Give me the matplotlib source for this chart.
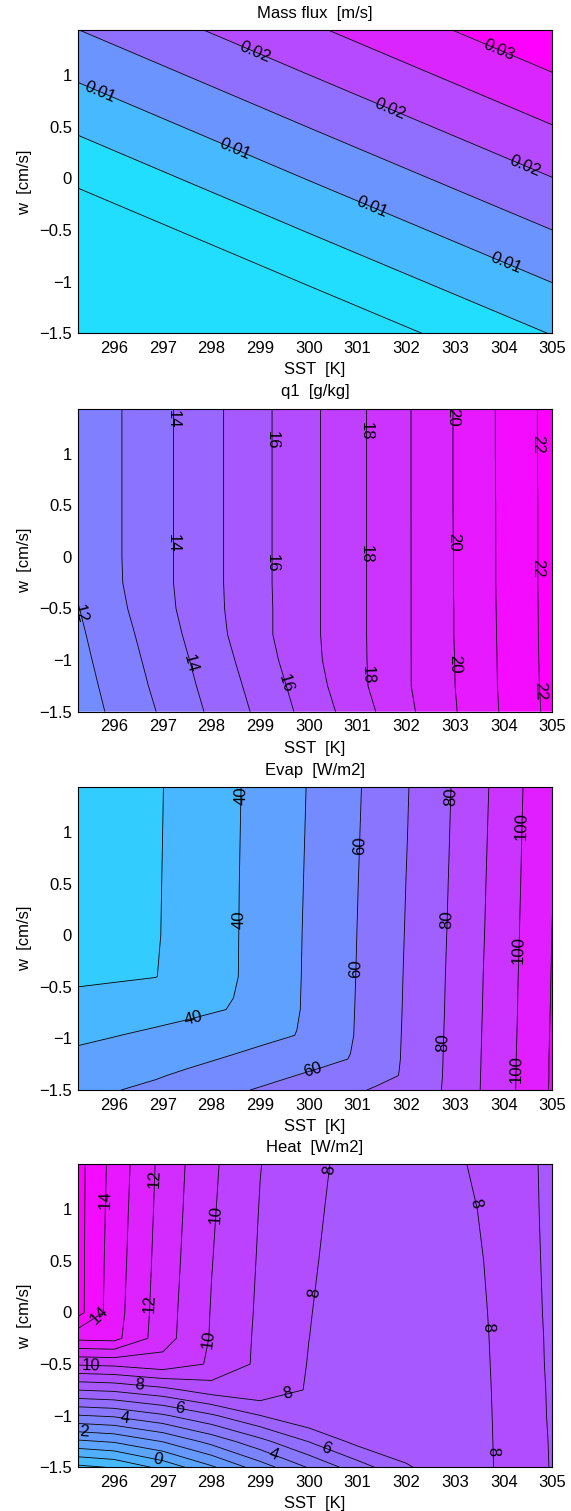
import matplotlib
matplotlib.use("Agg")
import matplotlib.pyplot as plt
import numpy as np

plt.rcParams["font.family"] = ["Liberation Sans", "DejaVu Sans"]
plt.rcParams["font.size"] = 12
plt.rcParams["contour.negative_linestyle"] = "solid"

# ---------------- values ----------------
# panel 1: mass flux [m/s], planar field
sst_mass = [295.25, 300.0, 305.0]
w_mass = [-1.5, 0.0, 1.435]
mass_flux = [
    [-0.0138, -0.0045, 0.0052],
    [0.0009, 0.0102, 0.0199],
    [0.0149, 0.0242, 0.0340],
]

# grid used for q1 and heat
sst_grid = [295.25, 296, 297, 298, 299, 300, 301, 302, 303, 304, 305]
w_grid = [-1.5, -1.25, -1.0, -0.75, -0.5, -0.25, 0.0, 0.5, 1.0, 1.435]

# panel 2: q1 [g/kg]
q1 = [
    [11.47, 12.18, 13.13, 14.16, 15.22, 16.35, 17.54, 18.78, 19.95, 21.12, 22.28],
    [11.59, 12.31, 13.29, 14.32, 15.39, 16.53, 17.76, 18.89, 20.00, 21.15, 22.31],
    [11.71, 12.44, 13.43, 14.47, 15.58, 16.70, 17.79, 18.89, 20.01, 21.16, 22.33],
    [11.83, 12.57, 13.58, 14.64, 15.74, 16.75, 17.80, 18.89, 20.03, 21.17, 22.34],
    [11.96, 12.72, 13.73, 14.73, 15.74, 16.75, 17.80, 18.89, 20.03, 21.18, 22.34],
    [12.12, 12.83, 13.79, 14.75, 15.76, 16.75, 17.80, 18.89, 20.04, 21.19, 22.35],
    [12.15, 12.85, 13.79, 14.75, 15.76, 16.75, 17.80, 18.89, 20.04, 21.19, 22.35],
    [12.15, 12.85, 13.79, 14.75, 15.76, 16.75, 17.80, 18.89, 20.05, 21.19, 22.35],
    [12.15, 12.85, 13.79, 14.75, 15.76, 16.75, 17.80, 18.89, 20.05, 21.20, 22.36],
    [12.15, 12.85, 13.79, 14.75, 15.76, 16.75, 17.80, 18.89, 20.05, 21.20, 22.36],
]

# panel 3: evaporation [W/m2], on its own grid (nodes near the bends)
sst_evap = [295.25, 296, 296.85, 297.5, 298.45, 299, 299.75, 300.3, 300.85,
            301.4, 301.85, 302.5, 303, 304, 305]
w_evap = [-1.5, -1.36, -1.2, -0.97, -0.72, -0.4, 0.0, 0.5, 1.0, 1.435]
evap = [
    [47.7, 49.6, 52.0, 55.1, 58.7, 60.8, 63.7, 65.6, 68.1, 71.2, 73.8, 77.5, 83.2, 96.4, 111.2],
    [45.2, 47.0, 49.2, 51.5, 55.1, 57.2, 60.1, 62.1, 64.4, 67.2, 70.1, 77.1, 83.1, 96.3, 111.1],
    [42.3, 44.0, 46.1, 47.9, 51.0, 53.1, 56.0, 58.1, 60.2, 65.05, 69.7, 77.0, 82.95, 96.2, 111.1],
    [38.2, 39.7, 41.6, 43.2, 45.9, 47.5, 50.15, 54.3, 59.3, 64.85, 69.5, 76.8, 82.8, 96.0, 110.9],
    [33.9, 35.0, 36.5, 37.9, 40.4, 43.5, 49.37, 54.2, 59.1, 64.7, 69.3, 76.6, 82.6, 95.8, 110.7],
    [28.2, 28.9, 29.8, 33.4, 39.26, 43.36, 49.2, 54.0, 58.9, 64.4, 69.1, 76.4, 82.4, 95.6, 110.5],
    [21.2, 24.1, 29.34, 33.33, 39.2, 43.26, 49.07, 53.8, 58.7, 64.1, 68.8, 76.1, 82.05, 95.2, 110.2],
    [21.0, 24.1, 29.22, 33.23, 39.13, 43.13, 48.85, 53.5, 58.4, 63.8, 68.45, 75.7, 81.7, 94.8, 109.8],
    [21.0, 24.1, 29.1, 33.1, 39.0, 42.95, 48.6, 53.25, 58.1, 63.4, 68.0, 75.4, 81.3, 94.4, 109.5],
    [21.0, 24.1, 29.0, 33.0, 38.9, 42.8, 48.4, 53.0, 57.8, 63.1, 67.7, 75.1, 81.0, 94.0, 109.2],
]

# panel 4: sensible heat [W/m2]
heat = [
    [-2.27, -1.92, -0.71, 0.84, 2.50, 4.08, 5.53, 6.87, 7.812, 8.05, 7.996],
    [0.82, 1.10, 2.03, 3.32, 4.69, 6.03, 7.31, 7.70, 7.827, 8.05, 7.995],
    [3.93, 4.13, 4.85, 5.85, 6.98, 7.88, 7.60, 7.70, 7.841, 8.05, 7.993],
    [7.02, 7.18, 7.71, 8.49, 8.73, 7.90, 7.60, 7.70, 7.855, 8.05, 7.992],
    [10.12, 10.23, 10.62, 9.88, 8.77, 7.96, 7.60, 7.70, 7.871, 8.05, 7.990],
    [13.22, 13.30, 11.42, 9.915, 8.80, 8.004, 7.60, 7.70, 7.885, 8.05, 7.989],
    [15.35, 13.43, 11.46, 9.95, 8.84, 8.03, 7.60, 7.70, 7.900, 8.05, 7.987],
    [15.35, 13.50, 11.55, 10.03, 8.90, 8.10, 7.60, 7.70, 7.929, 8.05, 7.984],
    [15.35, 13.57, 11.63, 10.11, 8.96, 8.188, 7.60, 7.70, 7.958, 8.05, 7.981],
    [15.35, 13.64, 11.69, 10.18, 9.02, 8.30, 7.60, 7.70, 7.984, 8.05, 7.979],
]

titles = ["Mass flux  [m/s]", "q1  [g/kg]", "Evap  [W/m2]", "Heat  [W/m2]"]
xticks = [296, 297, 298, 299, 300, 301, 302, 303, 304, 305]
yticks = [-1.5, -1, -0.5, 0, 0.5, 1]
ytick_labels = ["\u22121.5", "\u22121", "\u22120.5", "0", "0.5", "1"]

# contour levels and label spots (layout)
mass_levels = [0, 0.005, 0.01, 0.015, 0.02, 0.025, 0.03]
q1_levels = list(range(12, 23))
evap_levels = list(range(30, 111, 10))
heat_levels = list(range(-2, 16))

mass_labels = [(295.68, 0.80), (298.51, 0.31), (301.34, -0.23), (304.05, -0.82),
               (298.89, 1.22), (301.68, 0.69), (304.43, 0.12), (303.9, 1.25)]
q1_labels = [(295.34, -0.55),
             (297.21, 1.33), (297.21, 0.13), (297.55, -1.04),
             (299.23, 1.13), (299.23, -0.06), (299.49, -1.23),
             (301.13, 1.22), (301.13, 0.03), (301.19, -1.15),
             (302.96, 1.35), (302.96, 0.14), (303.0, -1.04),
             (304.67, 1.09), (304.69, -0.11), (304.73, -1.3)]
evap_labels = [(298.66, 1.35), (298.62, 0.15), (297.61, -0.78),
               (301.08, 0.87), (301.0, -0.32), (300.06, -1.30),
               (302.94, 1.34), (302.89, 0.15), (302.77, -1.04),
               (304.43, 1.06), (304.34, -0.14), (304.28, -1.30)]
heat_labels = [(295.83, 1.09), (295.76, -0.08), (296.85, 1.30), (296.74, 0.09),
               (298.12, 0.95), (297.98, -0.26), (295.53, -0.50),
               (300.43, 1.38), (300.17, 0.19), (299.64, -0.94), (296.52, -0.72),
               (303.3, 1.04), (303.49, -0.15), (303.75, -1.35),
               (297.34, -0.95), (300.36, -1.31), (296.21, -1.04), (299.27, -1.39),
               (295.39, -1.15), (296.89, -1.46)]

cmap = plt.get_cmap("cool")


def panel(ax, x, y, z, levels, label_levels, label_pos, fmt, tvals, title):
    X, Y = np.meshgrid(x, y)
    Z = np.array(z)
    bounds = [-1e6] + list(levels) + [1e6]
    colors = [cmap(t) for t in tvals]
    ax.contourf(X, Y, Z, levels=bounds, colors=colors, antialiased=True)
    plain = [l for l in levels if all(abs(l - m) > 1e-9 for m in label_levels)]
    ax.contour(X, Y, Z, levels=plain, colors="black", linewidths=0.6)
    cs = ax.contour(X, Y, Z, levels=label_levels, colors="black", linewidths=0.6)
    ax.clabel(cs, manual=label_pos, inline=False, fmt=fmt,
              fontsize=12, colors="black")
    ax.set_xlim(295.25, 305)
    ax.set_ylim(-1.5, 1.435)
    ax.set_xticks(xticks)
    ax.set_yticks(yticks)
    ax.set_yticklabels(ytick_labels)
    ax.tick_params(length=0, labelsize=12)
    ax.tick_params(axis="x", pad=5.5)
    ax.tick_params(axis="y", pad=4)
    for s in ax.spines.values():
        s.set_linewidth(0.8)
    ax.set_title(title, fontsize=12, pad=9)
    ax.set_xlabel("SST  [K]", fontsize=12, labelpad=4.5)
    ax.set_ylabel("w  [cm/s]", fontsize=12)
    ax.yaxis.set_label_coords(-0.097, 0.5)


fig = plt.figure(figsize=(5.71, 15.11), dpi=100)
bottoms = [0.7794, 0.5290, 0.2786, 0.0289]
axes = [fig.add_axes([0.1359, b, 0.8317, 0.2005]) for b in bottoms]

panel(axes[0], sst_mass, w_mass, mass_flux, mass_levels, [0.01, 0.02, 0.03],
      mass_labels, "%.2f", [0.13, 0.13, 0.275, 0.42, 0.565, 0.71, 0.855, 1.0], titles[0])
panel(axes[1], sst_grid, w_grid, q1, q1_levels, [12, 14, 16, 18, 20, 22],
      q1_labels, "%d", [0.45 + 0.05 * i for i in range(12)], titles[1])
panel(axes[2], sst_evap, w_evap, evap, evap_levels, [40, 60, 80, 100],
      evap_labels, "%d", [0.2 + 0.085 * i for i in range(10)], titles[2])
panel(axes[3], sst_grid, w_grid, heat, heat_levels, [0, 2, 4, 6, 8, 10, 12, 14],
      heat_labels, "%d", [0.23 + 0.0425 * i for i in range(19)], titles[3])

fig.savefig("out.png", dpi=100)
